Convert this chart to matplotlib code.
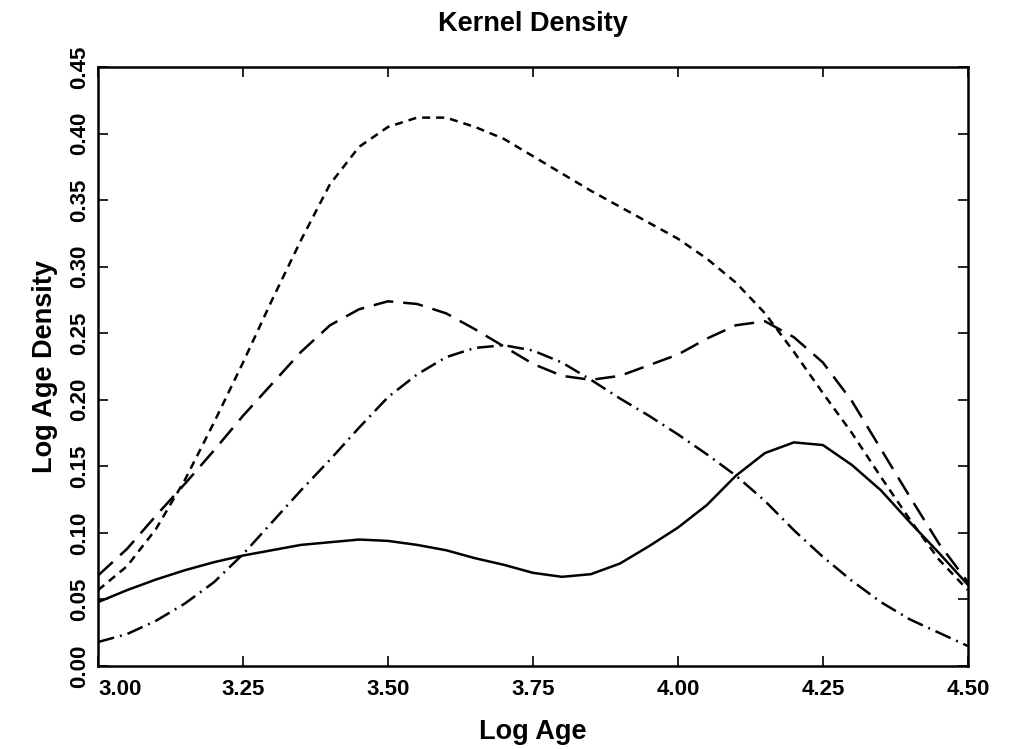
import numpy as np
import matplotlib
matplotlib.use("Agg")
import matplotlib.pyplot as plt

plt.rcParams['font.family'] = ['Liberation Sans', 'DejaVu Sans']
plt.rcParams['font.weight'] = 'bold'
plt.rcParams['lines.scale_dashes'] = False

# valores (passo de 0.05 em Log Age)
log_age = np.round(np.arange(3.00, 4.501, 0.05), 2)

solid = [0.048, 0.057, 0.065, 0.072, 0.078, 0.083, 0.087, 0.091, 0.093, 0.095,
         0.094, 0.091, 0.087, 0.081, 0.076, 0.070, 0.067, 0.069, 0.077, 0.090,
         0.104, 0.121, 0.143, 0.160, 0.168, 0.166, 0.151, 0.132, 0.108, 0.085,
         0.061]
short_dash = [0.057, 0.075, 0.103, 0.140, 0.183, 0.228, 0.275, 0.320, 0.362, 0.390,
              0.405, 0.412, 0.412, 0.405, 0.396, 0.383, 0.370, 0.357, 0.345, 0.333,
              0.321, 0.306, 0.288, 0.265, 0.236, 0.205, 0.175, 0.142, 0.110, 0.080,
              0.057]
long_dash = [0.068, 0.088, 0.113, 0.137, 0.162, 0.188, 0.212, 0.236, 0.256, 0.268,
             0.274, 0.272, 0.265, 0.253, 0.240, 0.227, 0.218, 0.215, 0.218, 0.226,
             0.234, 0.246, 0.256, 0.259, 0.247, 0.228, 0.199, 0.163, 0.127, 0.092,
             0.063]
dash_dot = [0.018, 0.024, 0.034, 0.047, 0.063, 0.084, 0.108, 0.132, 0.155, 0.179,
            0.202, 0.219, 0.232, 0.239, 0.241, 0.237, 0.228, 0.215, 0.201, 0.188,
            0.174, 0.159, 0.143, 0.124, 0.102, 0.082, 0.064, 0.048, 0.035, 0.025,
            0.015]

x_ticks = [3.00, 3.25, 3.50, 3.75, 4.00, 4.25, 4.50]
y_ticks = [0.00, 0.05, 0.10, 0.15, 0.20, 0.25, 0.30, 0.35, 0.40, 0.45]

fig = plt.figure(figsize=(10.15, 7.49), dpi=100)
ax = fig.add_axes([0.0966, 0.1108, 0.857, 0.7997])

lw = 1.8
ax.plot(log_age, solid, color='black', lw=lw, solid_joinstyle='round')
ax.plot(log_age, short_dash, color='black', lw=lw, dashes=(5.8, 4.3))
ax.plot(log_age, long_dash, color='black', lw=lw, dashes=(14.4, 7.2))
ax.plot(log_age, dash_dot, color='black', lw=lw, dashes=(12, 4.3, 1.4, 4.3))

ax.set_xlim(3.0, 4.5)
ax.set_ylim(0.0, 0.45)
ax.set_xticks(x_ticks)
ax.set_xticklabels([f"{v:.2f}" for v in x_ticks])
ax.set_yticks(y_ticks)
ax.set_yticklabels([f"{v:.2f}" for v in y_ticks], rotation=90, va='center')

ax.tick_params(direction='in', length=7, width=1.2, top=True, right=True,
               labelsize=16, pad=9)
ax.tick_params(axis='y', pad=6)
ax.get_xticklabels()[0].set_horizontalalignment('left')

for s in ax.spines.values():
    s.set_linewidth(1.8)

ax.set_title("Kernel Density", fontsize=19.5, fontweight='bold', pad=26)
ax.set_xlabel("Log Age", fontsize=19.5, fontweight='bold', labelpad=14)
ax.set_ylabel("Log Age Density", fontsize=19.5, fontweight='bold', labelpad=8)

fig.savefig("out.png", dpi=100)
